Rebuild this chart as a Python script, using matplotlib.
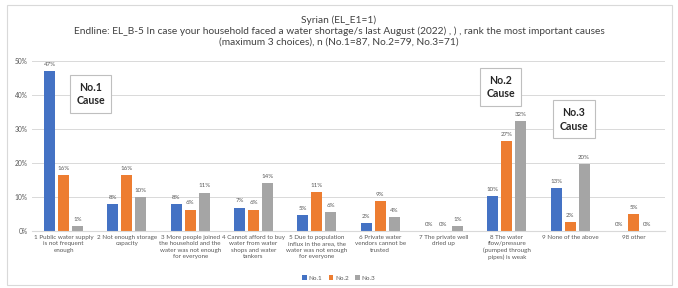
import numpy as np
import matplotlib.pyplot as plt
from matplotlib.patches import Rectangle

plt.rcParams['font.family'] = ['Lato', 'DejaVu Sans']

categories = [
    "1 Public water supply\nis not frequent\nenough",
    "2 Not enough storage\ncapacity",
    "3 More people joined\nthe household and the\nwater was not enough\nfor everyone",
    "4 Cannot afford to buy\nwater from water\nshops and water\ntankers",
    "5 Due to population\ninflux in the area, the\nwater was not enough\nfor everyone",
    "6 Private water\nvendors cannot be\ntrusted",
    "7 The private well\ndried up",
    "8 The water\nflow/pressure\n(pumped through\npipes) is weak",
    "9 None of the above",
    "98 other",
]
no1 = [47.1, 8.0, 8.0, 6.9, 4.6, 2.3, 0.0, 10.3, 12.6, 0.0]
no2 = [16.5, 16.5, 6.3, 6.3, 11.4, 8.9, 0.0, 26.6, 2.5, 5.1]
no3 = [1.4, 9.9, 11.3, 14.1, 5.6, 4.2, 1.4, 32.4, 19.7, 0.0]
series_names = ["No.1", "No.2", "No.3"]
colors = ["#4472C4", "#ED7D31", "#A5A5A5"]

title = ("Syrian (EL_E1=1)\n"
         "Endline: EL_B-5 In case your household faced a water shortage/s last August (2022) , ) , rank the most important causes\n"
         "(maximum 3 choices), n (No.1=87, No.2=79, No.3=71)")

fig = plt.figure(figsize=(6.78, 2.88), dpi=100)
fig.patches.append(Rectangle((0.011, 0.012), 0.98, 0.97, transform=fig.transFigure,
                             fill=False, edgecolor='#D9D9D9', linewidth=0.8))
ax = fig.add_axes([0.047, 0.198, 0.934, 0.59])

x = np.arange(len(categories))
w = 0.175
offs = [-0.22, 0.0, 0.22]
for vals, name, c, o in zip([no1, no2, no3], series_names, colors, offs):
    bars = ax.bar(x + o, vals, w, color=c, label=name)
    for b, v in zip(bars, vals):
        ax.text(b.get_x() + b.get_width() / 2, v + 1.2, f"{round(v):.0f}%",
                ha='center', va='bottom', fontsize=4.4, color='#595959')

ax.set_ylim(0, 50)
ax.set_xlim(-0.5, len(categories) - 0.5)
ax.set_yticks(np.arange(0, 51, 10))
ax.set_yticklabels([f"{t}%" for t in range(0, 51, 10)], fontsize=4.8, color='#595959')
ax.set_xticks(x)
ax.set_xticklabels(categories, fontsize=4.5, color='#595959', linespacing=1.3)
ax.tick_params(axis='both', length=0, pad=3)
ax.grid(axis='y', color='#D9D9D9', linewidth=0.7)
ax.set_axisbelow(True)
for s in ['top', 'right', 'left']:
    ax.spines[s].set_visible(False)
ax.spines['bottom'].set_color('#D9D9D9')

fig.text(0.5, 0.945, title, ha='center', va='top', fontsize=7.3, color='#404040',
         linespacing=1.2)

box = dict(boxstyle='square,pad=0.6', facecolor='white', edgecolor='#BFBFBF', linewidth=0.8)
ax.text(0.43, 40.3, "No.1\nCause", ha='center', va='center', fontsize=7.6,
        fontweight='bold', color='#262626', bbox=box, linespacing=1.3)
ax.text(6.9, 42.4, "No.2\nCause", ha='center', va='center', fontsize=7.6,
        fontweight='bold', color='#262626', bbox=box, linespacing=1.3)
ax.text(8.06, 32.9, "No.3\nCause", ha='center', va='center', fontsize=7.6,
        fontweight='bold', color='#262626', bbox=box, linespacing=1.3)

fig.legend(loc='lower center', bbox_to_anchor=(0.5, 0.005), ncol=3, frameon=False,
           fontsize=4.6, handlelength=0.7, handleheight=0.7, handletextpad=0.3,
           columnspacing=1.0, labelcolor='#595959')

fig.savefig('out.png', dpi=100)
